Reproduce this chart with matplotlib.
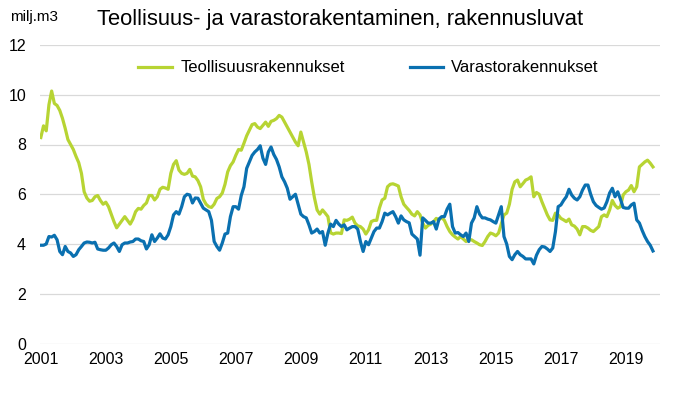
import numpy as np
import matplotlib
matplotlib.use("Agg")
import matplotlib.pyplot as plt

plt.rcParams["font.family"] = ["Liberation Sans", "DejaVu Sans"]

# monthly values, Jan 2001 -> Nov 2019 (milj. m3)
teollisuus = [
    8.28, 8.75, 8.55, 9.6, 10.15, 9.65, 9.57, 9.37, 9.05, 8.65, 8.2, 8.0,
    7.8, 7.52, 7.27, 6.84, 6.1, 5.85, 5.72, 5.75, 5.9, 5.95, 5.75, 5.6,
    5.68, 5.5, 5.2, 4.9, 4.65, 4.8, 4.95, 5.1, 4.95, 4.8, 5.0, 5.3,
    5.43, 5.4, 5.55, 5.65, 5.95, 5.95, 5.77, 5.9, 6.2, 6.28, 6.25, 6.2,
    6.84, 7.2, 7.35, 6.97, 6.84, 6.8, 6.84, 7.0, 6.73, 6.7, 6.55, 6.3,
    5.8, 5.6, 5.5, 5.47, 5.6, 5.83, 5.9, 6.05, 6.4, 6.9, 7.15, 7.3,
    7.57, 7.8, 7.77, 8.05, 8.35, 8.57, 8.8, 8.84, 8.7, 8.64, 8.77, 8.9,
    8.73, 8.93, 8.97, 9.04, 9.17, 9.1, 8.9, 8.7, 8.5, 8.3, 8.1, 7.95,
    8.5, 8.1, 7.7, 7.2, 6.5, 5.87, 5.37, 5.2, 5.37, 5.24, 5.1, 4.45,
    4.4, 4.44, 4.44, 4.42, 4.97, 4.95, 5.0, 5.08, 4.84, 4.73, 4.7, 4.6,
    4.4, 4.57, 4.9, 4.95, 4.95, 5.44, 5.77, 5.84, 6.3, 6.4, 6.42, 6.38,
    6.33, 5.9, 5.6, 5.47, 5.35, 5.2, 5.13, 5.3, 5.17, 4.84, 4.64, 4.75,
    4.8, 4.9, 5.03, 4.97, 5.07, 4.95, 4.7, 4.5, 4.37, 4.28, 4.2, 4.3,
    4.2, 4.1, 4.17, 4.17, 4.1, 4.04, 3.97, 3.94, 4.1, 4.3, 4.44, 4.4,
    4.33, 4.44, 4.8, 5.17, 5.24, 5.6, 6.2, 6.5, 6.57, 6.3, 6.43, 6.57,
    6.62, 6.7, 5.9, 6.07, 6.0, 5.7, 5.44, 5.17, 4.97, 4.95, 5.24, 5.17,
    5.03, 4.97, 4.9, 5.0, 4.77, 4.72, 4.6, 4.37, 4.7, 4.7, 4.64, 4.55,
    4.5, 4.6, 4.7, 5.1, 5.17, 5.1, 5.37, 5.75, 5.55, 5.44, 5.5, 5.97,
    6.1, 6.17, 6.35, 6.1, 6.3, 7.1, 7.2, 7.3, 7.37, 7.25, 7.1,
]

varasto = [
    3.95, 3.95, 4.0, 4.3, 4.28, 4.35, 4.17, 3.7, 3.57, 3.9, 3.7, 3.64,
    3.5, 3.57, 3.77, 3.9, 4.04, 4.08, 4.07, 4.04, 4.07, 3.8, 3.77, 3.75,
    3.75, 3.84, 3.97, 4.04, 3.9, 3.7, 3.97, 4.04, 4.04, 4.08, 4.1, 4.2,
    4.2, 4.13, 4.1, 3.8, 3.97, 4.37, 4.1, 4.24, 4.41, 4.24, 4.2, 4.37,
    4.7, 5.17, 5.3, 5.2, 5.5, 5.9, 6.0, 5.97, 5.65, 5.85, 5.84, 5.64,
    5.44, 5.37, 5.3, 4.95, 4.1, 3.9, 3.75, 4.04, 4.4, 4.44, 5.1, 5.5,
    5.5, 5.4, 5.95, 6.3, 7.04, 7.3, 7.56, 7.7, 7.8, 7.95, 7.45, 7.2,
    7.7, 7.9, 7.6, 7.4, 7.1, 6.7, 6.5, 6.24, 5.8, 5.9, 6.0, 5.6,
    5.2, 5.1, 5.05, 4.77, 4.44, 4.5, 4.6, 4.44, 4.5, 3.95, 4.44, 4.8,
    4.7, 4.95, 4.8, 4.7, 4.77, 4.57, 4.64, 4.7, 4.7, 4.6, 4.1, 3.7,
    4.1, 3.97, 4.24, 4.5, 4.64, 4.64, 4.9, 5.24, 5.17, 5.24, 5.3, 5.1,
    4.84, 5.13, 4.97, 4.9, 4.85, 4.4, 4.3, 4.2, 3.55, 5.05, 4.95, 4.84,
    4.84, 4.9, 4.6, 5.0, 5.1, 5.1, 5.4, 5.6, 4.7, 4.44, 4.46, 4.37,
    4.3, 4.44, 4.1, 4.84, 5.05, 5.5, 5.2, 5.05, 5.05, 5.0, 4.97, 4.9,
    4.84, 5.17, 5.5, 4.3, 4.0, 3.5, 3.37, 3.57, 3.7, 3.57, 3.5, 3.4,
    3.4, 3.4, 3.2, 3.55, 3.77, 3.9, 3.88, 3.8, 3.7, 3.84, 4.5, 5.5,
    5.57, 5.75, 5.9, 6.2, 5.97, 5.84, 5.77, 5.9, 6.17, 6.37, 6.37, 6.0,
    5.7, 5.55, 5.47, 5.4, 5.45, 5.7, 6.05, 6.24, 5.9, 6.1, 5.8, 5.47,
    5.44, 5.44, 5.57, 5.64, 4.97, 4.84, 4.55, 4.3, 4.1, 3.95, 3.72,
]

year_labels = ["2001", "2003", "2005", "2007", "2009",
               "2011", "2013", "2015", "2017", "2019"]

GREEN = "#b7d433"
BLUE = "#0a70b0"

fig = plt.figure(figsize=(6.74, 3.94), dpi=100)
ax = fig.add_axes([40 / 674, 1 - 343.5 / 394, 620 / 674, 298.5 / 394])

months = np.arange(len(teollisuus))
ax.plot(months, teollisuus, color=GREEN, lw=2.3, label="Teollisuusrakennukset",
        solid_joinstyle="round")
ax.plot(months, varasto, color=BLUE, lw=2.3, label="Varastorakennukset",
        solid_joinstyle="round")

ax.set_ylim(0, 12)
ax.set_yticks(range(0, 13, 2))
ax.set_xlim(-0.3, 228.6)
ax.set_xticks(np.arange(len(year_labels)) * 24)
ax.set_xticklabels(year_labels)

ax.grid(axis="y", color="#d9d9d9", lw=0.9)
ax.set_axisbelow(True)
for s in ax.spines.values():
    s.set_visible(False)
ax.tick_params(axis="both", length=0, labelsize=11.5, colors="black")
ax.tick_params(axis="y", pad=10)
ax.tick_params(axis="x", pad=6)

fig.text(10 / 674, 1 - 17 / 394, "milj.m3", fontsize=11, va="center", ha="left")
fig.text(340 / 674, 1 - 20 / 394, "Teollisuus- ja varastorakentaminen, rakennusluvat",
         fontsize=15.8, va="center", ha="center")

ax.legend(loc="center", bbox_to_anchor=(0.53, 0.923), ncol=2, frameon=False,
          fontsize=12, handlelength=2.0, handletextpad=0.5, columnspacing=3.9)

fig.savefig("out.png", dpi=100)
